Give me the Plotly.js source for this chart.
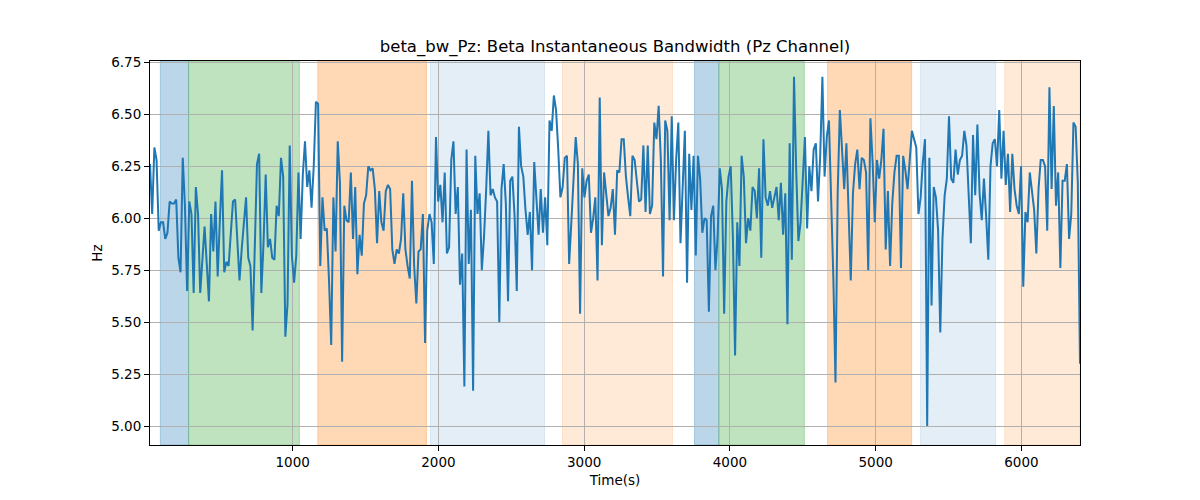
<!DOCTYPE html>
<html>
<head>
<meta charset="utf-8">
<script src="https://cdn.plot.ly/plotly-3.0.1.min.js"></script>
<style>
  body { margin: 0; background: #fff; }
  #chart { width: 1200px; height: 500px; }
</style>
</head>
<body>
<div id="chart"></div>
<script>
// time axis (s): first and last sample, samples are evenly spaced
var tFirst = 21;
var tLast = 6402;

// beta instantaneous bandwidth (Hz) left to right
var bwPart1 = [6.26, 6.02, 6.34, 6.28, 5.94, 5.98, 5.98, 5.90, 5.93, 6.08,
  6.07, 6.07, 6.09, 5.81, 5.74, 6.29, 6.06, 5.65, 6.08, 6.02,
  5.64, 6.15, 6.02, 5.64, 5.80, 5.96, 5.78, 5.60, 6.02, 5.84,
  6.08, 5.72, 5.99, 6.23, 5.74, 5.79, 5.77, 5.94, 6.08, 6.09,
  5.90, 5.70, 5.85, 5.99, 6.10, 5.81, 5.77, 5.46, 5.91, 6.26,
  6.31, 5.64, 5.88, 6.21, 5.86, 5.90];
var bwPart2 = [5.81, 5.80, 6.06, 6.01, 6.29, 6.20, 5.43, 5.59, 6.35, 5.82,
  5.69, 5.82, 6.22, 5.90, 6.21, 6.37, 6.15, 6.23, 6.05, 6.25,
  6.56, 6.55, 5.77, 6.10, 5.94, 5.95, 5.70, 5.39, 6.10, 5.84,
  6.37, 6.17, 5.31, 6.06, 5.99, 5.98, 6.22, 5.90, 6.15, 5.73,
  5.92, 5.82, 6.07, 6.11, 6.25, 6.23, 6.24, 6.14, 5.88, 6.13,
  5.98, 5.94, 6.13, 6.16, 6.14];
var bwPart3 = [5.85, 5.78, 5.85, 5.83, 5.90, 6.12, 5.85, 5.77, 5.71, 6.18,
  5.77, 5.59, 5.84, 5.85, 6.02, 5.40, 5.94, 6.02, 5.98, 5.78,
  6.39, 6.08, 6.16, 5.98, 6.22, 5.83, 5.86, 6.28, 6.37, 6.02,
  6.15, 5.68, 5.83, 5.19, 6.33, 5.78, 6.04, 5.17, 6.30, 6.02,
  6.12, 5.75, 5.91, 6.14, 6.42, 6.11, 6.14, 6.10, 6.08, 5.50,
  6.14, 6.26, 6.07, 5.60, 6.18];
var bwPart4 = [6.20, 6.01, 5.65, 6.44, 6.25, 6.20, 6.04, 5.92, 6.03, 5.75,
  6.27, 6.12, 5.92, 6.14, 5.93, 6.10, 5.87, 6.47, 6.42, 6.59,
  6.52, 6.33, 6.10, 6.15, 6.29, 6.30, 5.78, 5.98, 6.20, 6.39,
  6.26, 5.54, 6.24, 6.10, 6.18, 6.21, 5.93, 6.00, 6.10, 5.70,
  6.58, 5.87, 6.22, 6.10, 6.01, 6.05, 6.14, 5.92, 6.23, 6.22,
  6.38, 6.38, 6.20, 6.10, 6.01];
var bwPart5 = [6.30, 6.28, 6.18, 6.08, 6.09, 6.35, 6.03, 6.35, 6.02, 6.06,
  6.46, 6.38, 6.54, 6.28, 5.72, 6.47, 6.42, 5.99, 6.49, 5.99,
  6.28, 6.46, 5.88, 6.17, 6.42, 5.69, 6.31, 6.04, 6.30, 5.82,
  6.30, 6.19, 5.93, 6.00, 5.99, 5.55, 6.01, 6.06, 5.75, 5.91,
  6.24, 6.14, 5.54, 6.08, 6.20, 6.25, 5.91, 5.34, 5.98, 5.77,
  6.30, 6.20, 5.88, 6.00, 5.94];
var bwPart6 = [6.15, 6.13, 6.00, 6.24, 5.81, 6.38, 6.10, 6.06, 6.13, 6.05,
  6.10, 6.15, 5.99, 6.17, 5.92, 6.12, 5.49, 6.36, 5.80, 6.68,
  6.23, 5.89, 5.98, 6.22, 6.39, 5.95, 6.25, 6.13, 6.33, 6.36,
  6.08, 6.30, 6.68, 6.20, 6.39, 6.47, 6.10, 5.72, 5.21, 6.12,
  6.52, 6.30, 6.14, 6.36, 6.00, 5.70, 6.12, 6.26, 6.33, 6.14,
  6.29, 6.28, 6.22, 5.75, 6.48];
var bwPart7 = [6.27, 5.98, 6.28, 6.19, 6.28, 6.43, 5.85, 6.13, 5.77, 6.07,
  6.22, 6.30, 6.30, 5.76, 6.30, 6.23, 6.14, 6.28, 6.42, 6.38,
  6.34, 6.02, 6.10, 6.27, 6.38, 5.00, 6.29, 5.58, 6.15, 6.10,
  5.94, 5.45, 5.90, 6.11, 6.19, 6.49, 6.19, 6.17, 6.33, 6.21,
  6.28, 6.30, 6.42, 6.35, 6.11, 5.88];
var bwPart8 = [6.40, 6.11, 6.45, 6.12, 5.99, 6.19, 6.01, 5.80, 6.25, 6.36,
  6.38, 6.25, 6.52, 6.19, 6.42, 6.16, 6.31, 6.03, 6.31, 6.14,
  6.06, 6.02, 6.25, 5.67, 6.03, 5.98, 6.22, 6.14, 6.04, 5.83,
  6.14, 6.28, 6.28, 6.25, 5.94, 6.63, 6.14, 6.54, 6.06, 6.22,
  5.76, 6.18, 6.18, 6.26, 5.90, 6.02, 6.46, 6.44, 6.17, 5.30];

// shaded intervals (s) and their kind
var spanStart = [92, 286, 1172, 1945, 2851, 3757, 3924, 4670, 5308, 5885];
var spanEnd   = [286, 1046, 1918, 2728, 3606, 3924, 4511, 5247, 5823, 6402];
var spanKind  = ['a', 'b', 'c', 'd', 'e', 'a', 'b', 'c', 'd', 'e'];

var yTicks = [5.00, 5.25, 5.50, 5.75, 6.00, 6.25, 6.50, 6.75];
var xTicks = [1000, 2000, 3000, 4000, 5000, 6000];

var bw = [].concat(bwPart1, bwPart2, bwPart3, bwPart4, bwPart5, bwPart6, bwPart7, bwPart8);
var dt = (tLast - tFirst) / (bw.length - 1);
var t = bw.map(function (v, i) { return tFirst + i * dt; });

var kindColor = {
  a: 'rgba(31,119,180,0.3)',
  b: 'rgba(44,160,44,0.3)',
  c: 'rgba(255,127,14,0.3)',
  d: 'rgba(31,119,180,0.12)',
  e: 'rgba(255,127,14,0.16)'
};

var shapes = spanStart.map(function (s, i) {
  return {
    type: 'rect', xref: 'x', yref: 'paper',
    x0: s, x1: spanEnd[i], y0: 0, y1: 1,
    fillcolor: kindColor[spanKind[i]],
    line: { color: kindColor[spanKind[i]], width: 1 },
    layer: 'below'
  };
});

var trace = {
  x: t,
  y: bw,
  type: 'scatter',
  mode: 'lines',
  line: { color: '#1f77b4', width: 2 },
  hoverinfo: 'x+y'
};

var font = { family: 'DejaVu Sans, sans-serif', size: 13.5, color: '#000' };

var layout = {
  width: 1200,
  height: 500,
  margin: { l: 150, r: 120, t: 61, b: 55 },
  paper_bgcolor: '#fff',
  plot_bgcolor: '#fff',
  font: font,
  showlegend: false,
  title: {
    text: 'beta_bw_Pz: Beta Instantaneous Bandwidth (Pz Channel)',
    font: { family: 'DejaVu Sans, sans-serif', size: 16.5, color: '#000' },
    x: 0.5, xref: 'paper', xanchor: 'center',
    y: 1 - 46 / 500, yref: 'container', yanchor: 'middle'
  },
  xaxis: {
    range: [tFirst, tLast],
    tickmode: 'array',
    tickvals: xTicks,
    ticks: 'outside', ticklen: 5, tickwidth: 1, tickcolor: '#000',
    showgrid: true, gridcolor: '#b0b0b0', gridwidth: 1,
    showline: true, linecolor: '#000', linewidth: 1, mirror: true,
    zeroline: false,
    title: { text: 'Time(s)', font: font, standoff: 6 }
  },
  yaxis: {
    range: [4.909, 6.756],
    tickmode: 'array',
    tickvals: yTicks,
    tickformat: '.2f',
    ticks: 'outside', ticklen: 5, tickwidth: 1, tickcolor: '#000',
    showgrid: true, gridcolor: '#b0b0b0', gridwidth: 1,
    showline: true, linecolor: '#000', linewidth: 1, mirror: true,
    zeroline: false,
    title: { text: 'Hz', font: font, standoff: 5 }
  },
  shapes: shapes
};

Plotly.newPlot('chart', [trace], layout, { displayModeBar: false, staticPlot: true });
</script>
</body>
</html>
